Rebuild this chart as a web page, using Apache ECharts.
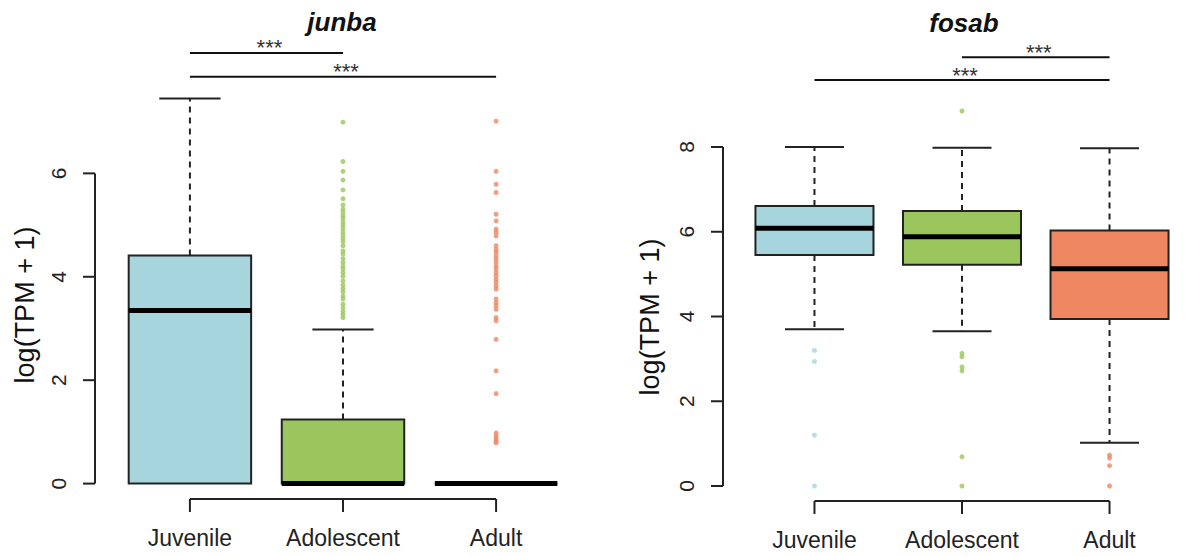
<!DOCTYPE html>
<html>
<head>
<meta charset="utf-8">
<title>junba / fosab</title>
<script src="https://cdn.jsdelivr.net/npm/echarts@6/dist/echarts.min.js"></script>
<style>
  html, body { margin: 0; padding: 0; background: #fff; }
  #chart { width: 1201px; height: 557px; }
</style>
</head>
<body>
<div id="chart"></div>
<script>
const groups = ['Juvenile', 'Adolescent', 'Adult']
const groupColors = ['#a6d5de', '#9bc65e', '#ee8762']

// box stats per group: [lower whisker, Q1, median, Q3, upper whisker]
const junbaBoxes = [
  [0, 0, 3.35, 4.41, 7.45],
  [0, 0, 0, 1.24, 2.98],
  [0, 0, 0, 0, 0]
]
const junbaOutliers = [
  [],
  [6.99, 6.23, 6.04, 5.87, 5.68, 5.51, 5.39, 5.31, 5.25, 5.18, 5.13, 5.06, 5.0, 4.94, 4.87,
    4.81, 4.74, 4.68, 4.6, 4.5, 4.44, 4.35, 4.28, 4.21, 4.15, 4.08, 4.01, 3.92, 3.84, 3.77,
    3.71, 3.63, 3.57, 3.47, 3.4, 3.33, 3.27, 3.21],
  [7.01, 6.04, 5.79, 5.63, 5.21, 5.08, 4.92, 4.86, 4.79, 4.6, 4.53, 4.47, 4.4, 4.34, 4.28,
    4.21, 4.15, 4.08, 4.02, 3.95, 3.89, 3.82, 3.76, 3.57, 3.5, 3.44, 3.37, 3.21, 3.15, 2.79,
    2.18, 1.74, 0.98, 0.92, 0.87, 0.82, 0.79]
]
const fosabBoxes = [
  [3.7, 5.45, 6.08, 6.61, 8.0],
  [3.65, 5.22, 5.88, 6.49, 7.98],
  [1.02, 3.94, 5.13, 6.03, 7.97]
]
const fosabOutliers = [
  [3.2, 2.94, 1.2, 0],
  [8.85, 3.13, 3.05, 2.81, 2.72, 0.69, 0],
  [0.73, 0.66, 0.48, 0]
]
const junbaTicks = [0, 2, 4, 6]
const fosabTicks = [0, 2, 4, 6, 8]
// significance brackets: [group a, group b, label]
const junbaSig = [[0, 1, '***'], [0, 2, '***']]
const fosabSig = [[1, 2, '***'], [0, 2, '***']]

const FONT = 'Liberation Sans, Arial, Helvetica, sans-serif'
const INK = '#222'
const BOX_HALF = 0.4
const CAP_HALF = 0.2
const X_MIN = 0.38
const X_MAX = 3.62

// R style ylim: data range widened by 4%
function yRange(boxes, outliers) {
  const all = boxes.flat().concat(outliers.flat())
  const lo = Math.min(...all)
  const hi = Math.max(...all)
  const pad = (hi - lo) * 0.04
  return [lo - pad, hi + pad]
}

function makePanel(idx, boxes, outliers, ticks, sig, sigLevels, ylim) {
  const series = []

  series.push({
    type: 'custom',
    xAxisIndex: idx,
    yAxisIndex: idx,
    silent: true,
    data: boxes.map((b, i) => [i + 1].concat(b)),
    renderItem(params, api) {
      const x = api.value(0)
      const lo = api.value(1), q1 = api.value(2), med = api.value(3), q3 = api.value(4), hi = api.value(5)
      const tl = api.coord([x - BOX_HALF, q3])
      const br = api.coord([x + BOX_HALF, q1])
      const cHi = api.coord([x, hi])
      const cLo = api.coord([x, lo])
      const cQ3 = api.coord([x, q3])
      const cQ1 = api.coord([x, q1])
      const capL = api.coord([x - CAP_HALF, 0])[0]
      const capR = api.coord([x + CAP_HALF, 0])[0]
      const mL = api.coord([x - BOX_HALF, med])
      const mR = api.coord([x + BOX_HALF, med])
      const dash = { stroke: INK, lineWidth: 2, lineDash: [6, 5] }
      const solid = { stroke: INK, lineWidth: 2 }
      const children = []
      if (hi > q3) {
        children.push({ type: 'line', shape: { x1: cQ3[0], y1: cQ3[1], x2: cHi[0], y2: cHi[1] }, style: dash })
        children.push({ type: 'line', shape: { x1: capL, y1: cHi[1], x2: capR, y2: cHi[1] }, style: solid })
      }
      if (lo < q1) {
        children.push({ type: 'line', shape: { x1: cQ1[0], y1: cQ1[1], x2: cLo[0], y2: cLo[1] }, style: dash })
        children.push({ type: 'line', shape: { x1: capL, y1: cLo[1], x2: capR, y2: cLo[1] }, style: solid })
      }
      children.push({
        type: 'rect',
        shape: { x: tl[0], y: tl[1], width: br[0] - tl[0], height: br[1] - tl[1] },
        style: { fill: groupColors[params.dataIndex], stroke: INK, lineWidth: 2 }
      })
      children.push({
        type: 'line',
        shape: { x1: mL[0], y1: mL[1], x2: mR[0], y2: mR[1] },
        style: { stroke: '#000', lineWidth: 5 }
      })
      return { type: 'group', children }
    }
  })

  const pts = []
  outliers.forEach((vals, i) => {
    vals.forEach(v => pts.push({ value: [i + 1, v], itemStyle: { color: groupColors[i] } }))
  })
  series.push({
    type: 'scatter',
    xAxisIndex: idx,
    yAxisIndex: idx,
    silent: true,
    symbol: 'circle',
    symbolSize: 5,
    data: pts,
    z: 3
  })

  // y axis, R style: line only between first and last tick
  series.push({
    type: 'custom',
    xAxisIndex: idx,
    yAxisIndex: idx,
    silent: true,
    data: ticks.map(t => [t]),
    renderItem(params, api) {
      const v = api.value(0)
      const p = api.coord([X_MIN, v])
      const children = [
        { type: 'line', shape: { x1: p[0] - 12, y1: p[1], x2: p[0], y2: p[1] }, style: { stroke: INK, lineWidth: 2 } },
        {
          type: 'text', x: p[0] - 37, y: p[1], rotation: Math.PI / 2,
          style: { text: String(v), fill: '#222', fontSize: 21, fontFamily: FONT, align: 'center', verticalAlign: 'middle' }
        }
      ]
      if (params.dataIndex === 0) {
        const a = api.coord([X_MIN, ticks[0]])
        const b = api.coord([X_MIN, ticks[ticks.length - 1]])
        children.push({ type: 'line', shape: { x1: a[0], y1: a[1], x2: b[0], y2: b[1] }, style: { stroke: INK, lineWidth: 2 } })
      }
      return { type: 'group', children }
    }
  })

  // x axis, R style
  series.push({
    type: 'custom',
    xAxisIndex: idx,
    yAxisIndex: idx,
    silent: true,
    data: groups.map((g, i) => [i + 1]),
    renderItem(params, api) {
      const x = api.value(0)
      const p = api.coord([x, ylim[0]])
      const children = [
        { type: 'line', shape: { x1: p[0], y1: p[1], x2: p[0], y2: p[1] + 13 }, style: { stroke: INK, lineWidth: 2 } },
        {
          type: 'text', x: p[0], y: p[1] + 39,
          style: { text: groups[params.dataIndex], fill: '#222', fontSize: 23, fontFamily: FONT, align: 'center', verticalAlign: 'middle' }
        }
      ]
      if (params.dataIndex === 0) {
        const b = api.coord([groups.length, ylim[0]])
        children.push({ type: 'line', shape: { x1: p[0], y1: p[1], x2: b[0], y2: b[1] }, style: { stroke: INK, lineWidth: 2 } })
      }
      return { type: 'group', children }
    }
  })

  // significance brackets
  series.push({
    type: 'custom',
    xAxisIndex: idx,
    yAxisIndex: idx,
    silent: true,
    data: sig.map((s, k) => [s[0] + 1, s[1] + 1, sigLevels[k]]),
    renderItem(params, api) {
      const a = api.coord([api.value(0), api.value(2)])
      const b = api.coord([api.value(1), api.value(2)])
      return {
        type: 'group',
        children: [
          { type: 'line', shape: { x1: a[0], y1: a[1], x2: b[0], y2: b[1] }, style: { stroke: '#111', lineWidth: 2 } },
          {
            type: 'text', x: (a[0] + b[0]) / 2 + 3, y: a[1] - 5,
            style: { text: sig[params.dataIndex][2], fill: '#333', fontSize: 22, fontFamily: FONT, align: 'center', verticalAlign: 'middle' }
          }
        ]
      }
    }
  })

  return series
}

const junbaY = yRange(junbaBoxes, junbaOutliers)
const fosabY = yRange(fosabBoxes, fosabOutliers)

const chart = echarts.init(document.getElementById('chart'), null, { renderer: 'svg' })

chart.setOption({
  animation: false,
  backgroundColor: '#fff',
  grid: [
    { left: 95, top: 83, width: 496, height: 416 },
    { left: 723, top: 96, width: 483, height: 405 }
  ],
  xAxis: [
    { gridIndex: 0, type: 'value', min: X_MIN, max: X_MAX, show: false },
    { gridIndex: 1, type: 'value', min: X_MIN, max: X_MAX, show: false }
  ],
  yAxis: [
    { gridIndex: 0, type: 'value', min: junbaY[0], max: junbaY[1], show: false },
    { gridIndex: 1, type: 'value', min: fosabY[0], max: fosabY[1], show: false }
  ],
  graphic: [
    { type: 'text', x: 342, y: 22, style: { text: 'junba', fontSize: 26, fontWeight: 'bold', fontStyle: 'italic', fontFamily: FONT, fill: '#111', align: 'center', verticalAlign: 'middle' } },
    { type: 'text', x: 964, y: 23, style: { text: 'fosab', fontSize: 26, fontWeight: 'bold', fontStyle: 'italic', fontFamily: FONT, fill: '#111', align: 'center', verticalAlign: 'middle' } },
    { type: 'text', x: 25, y: 305, rotation: Math.PI / 2, style: { text: 'log(TPM + 1)', fontSize: 27, fontFamily: FONT, fill: '#111', align: 'center', verticalAlign: 'middle' } },
    { type: 'text', x: 650, y: 317, rotation: Math.PI / 2, style: { text: 'log(TPM + 1)', fontSize: 27, fontFamily: FONT, fill: '#111', align: 'center', verticalAlign: 'middle' } }
  ],
  series: [].concat(
    makePanel(0, junbaBoxes, junbaOutliers, junbaTicks, junbaSig, [8.33, 7.87], junbaY),
    makePanel(1, fosabBoxes, fosabOutliers, fosabTicks, fosabSig, [10.12, 9.58], fosabY)
  )
})
</script>
</body>
</html>
